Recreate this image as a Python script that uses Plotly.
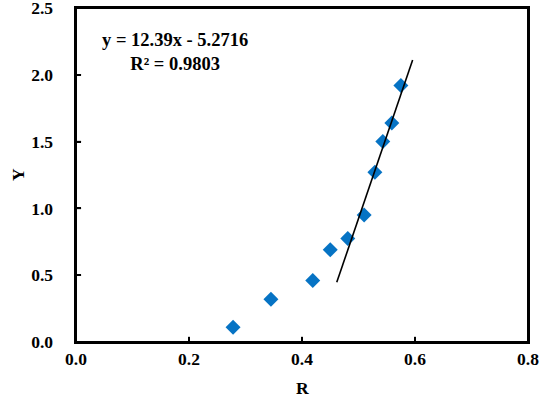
import plotly.graph_objects as go

# measured points (R, Y)
r_vals = [0.278, 0.345, 0.419, 0.450, 0.481, 0.510, 0.529, 0.543, 0.559, 0.575]
y_vals = [0.11, 0.32, 0.46, 0.69, 0.775, 0.95, 1.27, 1.50, 1.64, 1.92]

# linear trendline endpoints (y = 12.39x - 5.2716)
trend_x = [0.4615, 0.5958]
trend_y = [0.4465, 2.1103]

x_ticks = [0.0, 0.2, 0.4, 0.6, 0.8]
y_ticks = [0.0, 0.5, 1.0, 1.5, 2.0, 2.5]

font_family = "Liberation Serif, Times New Roman, serif"
title_font = dict(family=font_family, size=17.5, color="black")

fig = go.Figure()
fig.add_trace(go.Scatter(
    x=r_vals, y=y_vals, mode="markers",
    marker=dict(symbol="diamond", size=11.5, color="#0673C4"),
    showlegend=False,
))
fig.add_trace(go.Scatter(
    x=trend_x, y=trend_y, mode="lines",
    line=dict(color="black", width=1.6),
    showlegend=False,
))

fig.add_annotation(
    x=0.175, y=2.17, xref="x", yref="y",
    text="<b>y = 12.39x - 5.2716</b><br><b>R² = 0.9803</b>",
    showarrow=False, align="center",
    font=dict(family=font_family, size=18.5, color="black"),
)

# axis titles
fig.add_annotation(x=0.5, y=0, xref="paper", yref="paper", yshift=-46,
                   yanchor="middle", xanchor="center",
                   text="<b>R</b>", showarrow=False, font=title_font)
fig.add_annotation(x=0, y=0.5, xref="paper", yref="paper", xshift=-58,
                   xanchor="center", yanchor="middle",
                   text="<b>Y</b>", textangle=-90, showarrow=False, font=title_font)

# plot frame
fig.add_shape(type="rect", xref="paper", yref="paper", x0=0, y0=0, x1=1, y1=1,
              line=dict(color="black", width=2), layer="above")

# inside tick marks (about 5 px long)
for v in x_ticks[1:-1]:
    fig.add_shape(type="line", xref="x", yref="y", x0=v, x1=v, y0=0, y1=0.04,
                  line=dict(color="black", width=1.5), layer="above")
for v in y_ticks[1:-1]:
    fig.add_shape(type="line", xref="x", yref="y", y0=v, y1=v, x0=0, x1=0.009,
                  line=dict(color="black", width=1.5), layer="above")

axis_style = dict(
    showgrid=False, zeroline=False,
    showline=True, linecolor="#000000", linewidth=2, mirror=True,
    ticks="inside", ticklen=5, tickwidth=1.5, tickcolor="#000000",
    tickfont=dict(family=font_family, size=17.5, color="black"),
    automargin=False, ticklabeloverflow="allow",
)

pad = "\u00a0" * 4
fig.update_xaxes(
    range=[0, 0.8], tickvals=x_ticks,
    ticktext=[f"<b>{v:.1f}</b>" for v in x_ticks],
    **axis_style,
)
fig.update_yaxes(
    range=[0, 2.5], tickvals=y_ticks,
    ticktext=[f"<b>{v:.1f}{pad}</b>" for v in y_ticks],
    **axis_style,
)

fig.update_layout(
    width=540, height=396,
    margin=dict(l=76, r=12, t=8, b=54),
    plot_bgcolor="white", paper_bgcolor="white",
)

fig.write_html("out.html", config={"displayModeBar": False},
               post_script="document.body.style.margin='0';")
